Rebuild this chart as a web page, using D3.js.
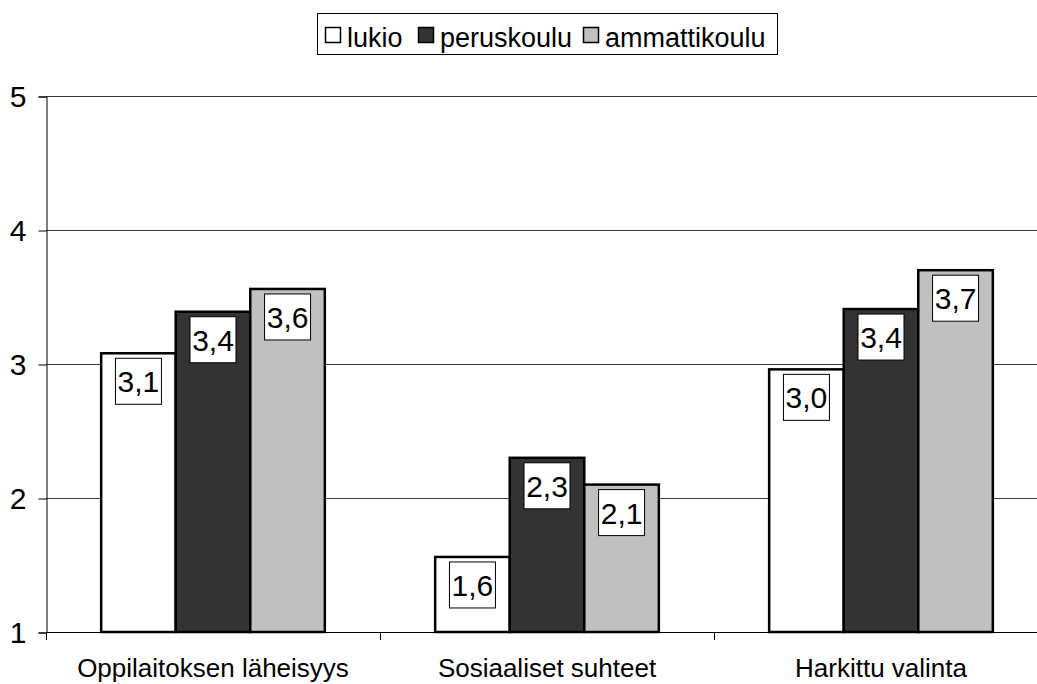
<!DOCTYPE html>
<html>
<head>
<meta charset="utf-8">
<script src="https://cdn.jsdelivr.net/npm/d3@7"></script>
<style>
  body { margin: 0; background: #fff; }
  text { font-family: Arial, "Liberation Sans", sans-serif; fill: #000; }
</style>
</head>
<body>
<div id="chart"></div>
<script>
// data
var categories = ["Oppilaitoksen läheisyys", "Sosiaaliset suhteet", "Harkittu valinta"];
var seriesNames = ["lukio", "peruskoulu", "ammattikoulu"];
var lukio = [3.08, 1.56, 2.96];
var peruskoulu = [3.39, 2.30, 3.41];
var ammattikoulu = [3.56, 2.10, 3.70];
var yTicks = [1, 2, 3, 4, 5];
var colors = { lukio: "#ffffff", peruskoulu: "#333333", ammattikoulu: "#c0c0c0" };

var svgWidth = 1037;
var svgHeight = 684;

var margin = { top: 96, left: 46 };
var plotBottom = 632;
var plotRight = 1048;

var svg = d3.select("#chart")
  .append("svg")
  .attr("width", svgWidth)
  .attr("height", svgHeight);

var seriesValues = { lukio: lukio, peruskoulu: peruskoulu, ammattikoulu: ammattikoulu };

var rows = categories.map(function(c, i) {
  return seriesNames.map(function(s) {
    return { cat: c, series: s, value: seriesValues[s][i] };
  });
});

// scales
var x0 = d3.scaleBand()
  .domain(categories)
  .range([margin.left, plotRight])
  .padding(0);

var x1 = d3.scaleBand()
  .domain(seriesNames)
  .range([0, x0.bandwidth()])
  .paddingInner(0)
  .paddingOuter(0.74);

var y = d3.scaleLinear()
  .domain([1, 5])
  .range([plotBottom, margin.top]);

// gridlines
svg.append("g")
  .selectAll("line")
  .data(yTicks.slice(1))
  .enter()
  .append("line")
  .attr("x1", margin.left)
  .attr("x2", svgWidth)
  .attr("y1", d => Math.round(y(d)) + 0.5)
  .attr("y2", d => Math.round(y(d)) + 0.5)
  .attr("stroke", "#3a3a3a")
  .attr("stroke-width", 1);

// left axis
var leftAxis = d3.axisLeft(y)
  .tickValues(yTicks)
  .tickSize(8)
  .tickPadding(12)
  .tickFormat(d3.format("d"));

var gy = svg.append("g")
  .attr("transform", `translate(${margin.left + 0.5}, 0.5)`)
  .call(leftAxis);
gy.select(".domain").attr("stroke", "#000");
gy.selectAll(".tick line").attr("stroke", "#000");
gy.selectAll(".tick text")
  .style("font-size", "30px")
  .attr("font-family", null);

// bottom axis
var bottomAxis = d3.axisBottom(x0)
  .tickSizeOuter(0)
  .tickSize(0)
  .tickFormat("");
var gx = svg.append("g")
  .attr("transform", `translate(0.5, ${plotBottom + 0.5})`)
  .call(bottomAxis);
gx.select(".domain").attr("stroke", "#000").attr("d", `M${margin.left},0H${plotRight}`);

// category separator ticks
var sepTicks = categories.map(c => x0(c)).concat([plotRight]);
svg.append("g")
  .selectAll("line")
  .data(sepTicks)
  .enter()
  .append("line")
  .attr("x1", d => Math.round(d) + 0.5)
  .attr("x2", d => Math.round(d) + 0.5)
  .attr("y1", plotBottom)
  .attr("y2", plotBottom + 8)
  .attr("stroke", "#000");

// category labels
svg.append("g")
  .selectAll("text")
  .data(categories)
  .enter()
  .append("text")
  .attr("x", d => x0(d) + x0.bandwidth() / 2)
  .attr("y", 677)
  .attr("text-anchor", "middle")
  .style("font-size", "26px")
  .text(d => d);

// bars
var groups = svg.append("g")
  .selectAll("g")
  .data(rows)
  .enter()
  .append("g")
  .attr("transform", d => `translate(${x0(d[0].cat)}, 0)`);

groups.selectAll("rect")
  .data(d => d)
  .enter()
  .append("rect")
  .attr("x", d => x1(d.series))
  .attr("y", d => y(d.value))
  .attr("width", x1.bandwidth())
  .attr("height", d => plotBottom - y(d.value))
  .attr("fill", d => colors[d.series])
  .attr("stroke", "#000")
  .attr("stroke-width", 2.5);

// value labels
var boxSize = 46;
var labels = groups.selectAll("g.label")
  .data(d => d)
  .enter()
  .append("g")
  .attr("class", "label")
  .attr("transform", d => `translate(${x1(d.series) + x1.bandwidth() / 2}, ${y(d.value) + 5})`);

labels.append("rect")
  .attr("x", -boxSize / 2)
  .attr("y", 0)
  .attr("width", boxSize)
  .attr("height", boxSize)
  .attr("fill", "#fff")
  .attr("stroke", "#000")
  .attr("stroke-width", 1);

labels.append("text")
  .attr("x", 0)
  .attr("y", boxSize / 2 + 11)
  .attr("text-anchor", "middle")
  .style("font-size", "30px")
  .text(d => d.value.toFixed(1).replace(".", ","));

// legend
var legend = svg.append("g");
legend.append("rect")
  .attr("x", 317.5)
  .attr("y", 13.5)
  .attr("width", 460)
  .attr("height", 41)
  .attr("fill", "#fff")
  .attr("stroke", "#000")
  .attr("stroke-width", 1);

var legendX = [325, 418, 583];
seriesNames.forEach(function(s, i) {
  legend.append("rect")
    .attr("x", legendX[i] + 0.5)
    .attr("y", 27.5)
    .attr("width", 15)
    .attr("height", 15)
    .attr("fill", colors[s])
    .attr("stroke", "#000")
    .attr("stroke-width", 1.5);
  legend.append("text")
    .attr("x", legendX[i] + 22)
    .attr("y", 47)
    .style("font-size", "27px")
    .text(s);
});
</script>
</body>
</html>
